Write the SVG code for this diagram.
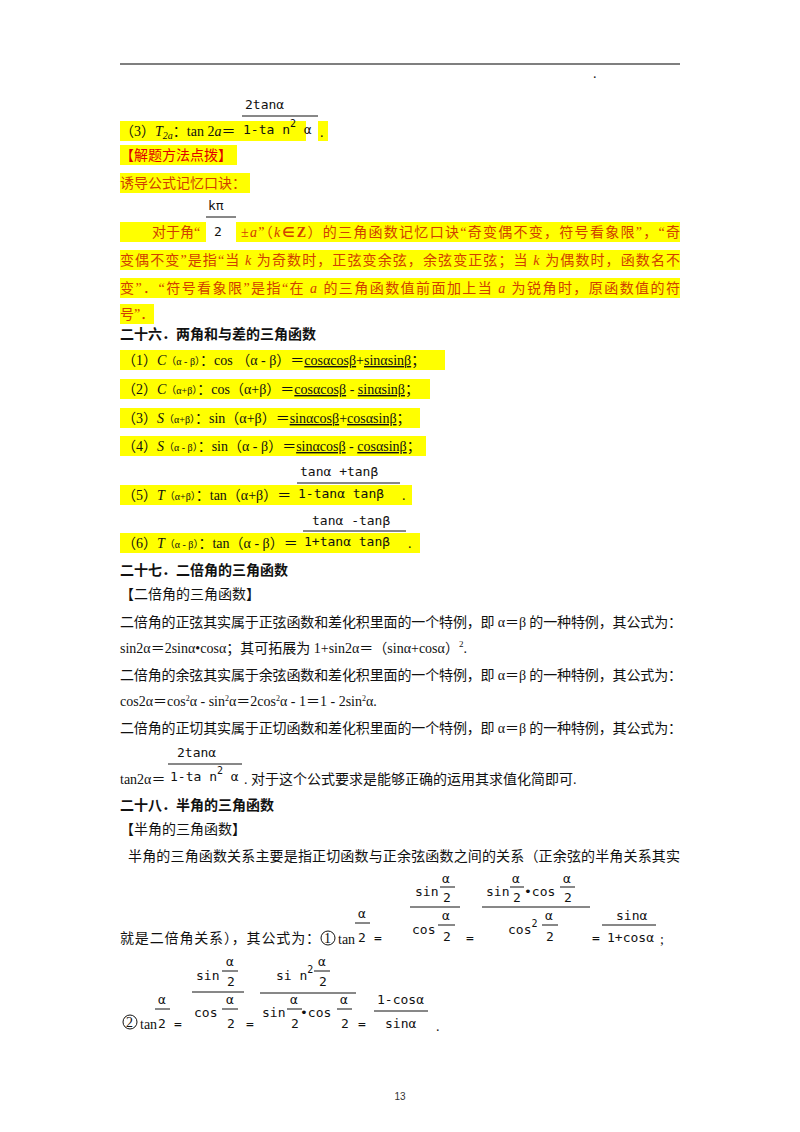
<svg xmlns="http://www.w3.org/2000/svg" width="800" height="1132" viewBox="0 0 800 1132">
<style>
.t{font-family:"Liberation Serif","Noto Sans CJK SC",serif;font-size:14px;fill:#111}
.b{font-weight:bold}
.r{fill:#e00000}
.o{fill:#d04000}
.m{font-family:"DejaVu Sans Mono","Liberation Mono",monospace;font-size:13px;fill:#111}
.s{font-size:10px}
.hl{fill:#ffff00}
.fl{stroke:#111;stroke-width:1}
.u{text-decoration:underline}
</style>
<rect width="800" height="1132" fill="#fff"/>
<line x1="120" y1="64" x2="680" y2="64" stroke="#000" stroke-width="1.2"/>
<text class="t" x="593" y="78" font-size="8">.</text>

<!-- top (3) -->
<rect class="hl" x="120" y="121" width="186" height="20"/>
<text class="t" x="120" y="136">（3）<tspan font-style="italic">T</tspan><tspan class="s" font-style="italic" dy="3">2a</tspan><tspan dy="-3">：tan  2</tspan><tspan font-style="italic">a</tspan>＝</text>
<text class="m" x="245" y="109">2tanα</text>
<line class="fl" x1="242" y1="116" x2="318" y2="116"/>
<text class="m" x="243" y="134">1-ta n<tspan dy="-7" font-size="10">2</tspan><tspan dy="7"> α</tspan></text>
<rect class="hl" x="318" y="121" width="10" height="20"/>
<text class="t" x="320" y="137">.</text>

<rect class="hl" x="120" y="145" width="117" height="20"/>
<text class="t r" x="120" y="160">【解题方法点拨】</text>
<rect class="hl" x="120" y="173" width="130" height="20"/>
<text class="t o" x="120" y="188">诱导公式记忆口诀：</text>

<text class="m" x="208" y="210">kπ</text>
<line class="fl" x1="206" y1="217" x2="236" y2="217"/>
<rect class="hl" x="120" y="222" width="86" height="20"/>
<rect class="hl" x="236" y="222" width="444" height="20"/>
<text class="m" x="214" y="236" font-size="14">2</text>
<text class="t o" x="152" y="237">对于角“</text>
<text class="t o" x="241" y="237" textLength="439" lengthAdjust="spacing">±<tspan font-style="italic">a</tspan>”（<tspan font-style="italic">k</tspan><tspan font-weight="bold">∈Z</tspan>）的三角函数记忆口诀“奇变偶不变，符号看象限”，“奇</text>
<rect class="hl" x="120" y="250" width="560" height="20"/>
<text class="t o" x="120" y="265" textLength="560" lengthAdjust="spacing">变偶不变”是指“当 <tspan font-style="italic">k</tspan> 为奇数时，正弦变余弦，余弦变正弦；当 <tspan font-style="italic">k</tspan> 为偶数时，函数名不</text>
<rect class="hl" x="120" y="278" width="560" height="20"/>
<text class="t o" x="120" y="293" textLength="560" lengthAdjust="spacing">变”．“符号看象限”是指“在 <tspan font-style="italic">a</tspan> 的三角函数值前面加上当 <tspan font-style="italic">a</tspan> 为锐角时，原函数值的符</text>
<rect class="hl" x="120" y="304" width="34" height="20"/>
<text class="t o" x="120" y="319">号”．</text>

<text class="t b" x="120" y="339">二十六．两角和与差的三角函数</text>

<rect class="hl" x="120" y="350" width="325" height="20"/>
<text class="t" x="122" y="365">（1）<tspan font-style="italic">C</tspan><tspan class="s">（α - β）</tspan>：cos  （α - β）＝<tspan class="u">cosαcosβ</tspan>+<tspan class="u">sinαsinβ</tspan>；</text>
<rect class="hl" x="120" y="379" width="310" height="20"/>
<text class="t" x="122" y="394">（2）<tspan font-style="italic">C</tspan><tspan class="s">（α+β）</tspan>：cos（α+β）＝<tspan class="u">cosαcosβ</tspan> - <tspan class="u">sinαsinβ</tspan>；</text>
<rect class="hl" x="120" y="408" width="300" height="20"/>
<text class="t" x="122" y="423">（3）<tspan font-style="italic">S</tspan><tspan class="s">（α+β）</tspan>：sin（α+β）＝<tspan class="u">sinαcosβ</tspan>+<tspan class="u">cosαsinβ</tspan>；</text>
<rect class="hl" x="120" y="436" width="306" height="20"/>
<text class="t" x="122" y="451">（4）<tspan font-style="italic">S</tspan><tspan class="s">（α - β）</tspan>：sin（α - β）＝<tspan class="u">sinαcosβ</tspan> - <tspan class="u">cosαsinβ</tspan>；</text>

<rect class="hl" x="120" y="485" width="285" height="20"/>
<text class="t" x="122" y="500">（5）<tspan font-style="italic">T</tspan><tspan class="s">（α+β）</tspan>：tan（α+β）＝</text>
<text class="m" x="300" y="476">tanα +tanβ</text>
<line class="fl" x1="297" y1="483" x2="400" y2="483"/>
<text class="m" x="298" y="498">1-tanα tanβ</text>
<rect class="hl" x="400" y="485" width="12" height="20"/>
<text class="t" x="402" y="500">.</text>

<rect class="hl" x="120" y="533" width="290" height="20"/>
<text class="t" x="122" y="548">（6）<tspan font-style="italic">T</tspan><tspan class="s">（α - β）</tspan>：tan（α - β）＝</text>
<text class="m" x="312" y="525">tanα -tanβ</text>
<line class="fl" x1="303" y1="531" x2="406" y2="531"/>
<text class="m" x="304" y="546">1+tanα tanβ</text>
<rect class="hl" x="406" y="533" width="14" height="20"/>
<text class="t" x="408" y="548">.</text>

<text class="t b" x="120" y="575">二十七．二倍角的三角函数</text>
<text class="t" x="120" y="599">【二倍角的三角函数】</text>
<text class="t" x="120" y="627" textLength="562" lengthAdjust="spacing">二倍角的正弦其实属于正弦函数和差化积里面的一个特例，即 α＝β 的一种特例，其公式为：</text>
<text class="t" x="120" y="653">sin2α＝2sinα•cosα；其可拓展为 1+sin2α＝（sinα+cosα）<tspan dy="-6" font-size="9">2</tspan><tspan dy="6">.</tspan></text>
<text class="t" x="120" y="680" textLength="562" lengthAdjust="spacing">二倍角的余弦其实属于余弦函数和差化积里面的一个特例，即 α＝β 的一种特例，其公式为：</text>
<text class="t" x="120" y="706">cos2α＝cos<tspan dy="-5" font-size="8">2</tspan><tspan dy="5">α - sin</tspan><tspan dy="-5" font-size="8">2</tspan><tspan dy="5">α＝2cos</tspan><tspan dy="-5" font-size="8">2</tspan><tspan dy="5">α - 1＝1 - 2sin</tspan><tspan dy="-5" font-size="8">2</tspan><tspan dy="5">α.</tspan></text>
<text class="t" x="120" y="733" textLength="562" lengthAdjust="spacing">二倍角的正切其实属于正切函数和差化积里面的一个特例，即 α＝β 的一种特例，其公式为：</text>
<text class="m" x="177" y="757">2tanα</text>
<line class="fl" x1="168" y1="764" x2="242" y2="764"/>
<text class="m" x="170" y="781">1-ta n<tspan dy="-7" font-size="10">2</tspan><tspan dy="7"> α</tspan></text>
<text class="t" x="120" y="784">tan2α＝</text>
<text class="t" x="244" y="784">. 对于这个公式要求是能够正确的运用其求值化简即可.</text>

<text class="t b" x="120" y="810">二十八．半角的三角函数</text>
<text class="t" x="120" y="834">【半角的三角函数】</text>
<text class="t" x="128" y="861" textLength="552" lengthAdjust="spacing">半角的三角函数关系主要是指正切函数与正余弦函数之间的关系（正余弦的半角关系其实</text>

<!-- half-angle formula 1 -->
<text class="t" x="120" y="943" textLength="200" lengthAdjust="spacing">就是二倍角关系），其公式为：</text>
<circle cx="328" cy="938" r="7" fill="none" stroke="#111" stroke-width="1"/>
<text class="t" x="324" y="943" font-size="11">1</text>
<text class="t" x="338" y="944" font-size="12">tan</text>
<text class="m" x="358" y="918">α</text>
<line class="fl" x1="355" y1="923" x2="370" y2="923"/>
<text class="m" x="358" y="942" font-size="14">2</text>
<text class="m" x="374" y="942">=</text>
<text class="m" x="415" y="896">sin</text>
<text class="m" x="442" y="883">α</text>
<line class="fl" x1="440" y1="887" x2="455" y2="887"/>
<text class="m" x="443" y="902" font-size="14">2</text>
<line class="fl" x1="410" y1="907" x2="460" y2="907"/>
<text class="m" x="412" y="934">cos</text>
<text class="m" x="442" y="920">α</text>
<line class="fl" x1="438" y1="925" x2="455" y2="925"/>
<text class="m" x="443" y="941" font-size="14">2</text>
<text class="m" x="466" y="942">=</text>
<text class="m" x="486" y="896">sin</text>
<text class="m" x="512" y="883">α</text>
<line class="fl" x1="510" y1="887" x2="524" y2="887"/>
<text class="m" x="513" y="902" font-size="14">2</text>
<text class="m" x="524" y="896">•cos</text>
<text class="m" x="563" y="883">α</text>
<line class="fl" x1="560" y1="887" x2="575" y2="887"/>
<text class="m" x="564" y="902" font-size="14">2</text>
<line class="fl" x1="482" y1="907" x2="590" y2="907"/>
<text class="m" x="508" y="934">cos<tspan dy="-7" font-size="10">2</tspan></text>
<text class="m" x="545" y="920">α</text>
<line class="fl" x1="542" y1="925" x2="558" y2="925"/>
<text class="m" x="546" y="941" font-size="14">2</text>
<text class="m" x="592" y="942">=</text>
<text class="m" x="616" y="920">sinα</text>
<line class="fl" x1="602" y1="925" x2="656" y2="925"/>
<text class="m" x="607" y="942">1+cosα</text>
<text class="t" x="660" y="944">;</text>

<!-- half-angle formula 2 -->
<circle cx="130" cy="1022" r="7" fill="none" stroke="#111" stroke-width="1"/>
<text class="t" x="126" y="1027" font-size="11">2</text>
<text class="t" x="140" y="1029" font-size="12">tan</text>
<text class="m" x="158" y="1004">α</text>
<line class="fl" x1="155" y1="1009" x2="170" y2="1009"/>
<text class="m" x="158" y="1028" font-size="14">2</text>
<text class="m" x="174" y="1028">=</text>
<text class="m" x="196" y="980">sin</text>
<text class="m" x="226" y="966">α</text>
<line class="fl" x1="222" y1="971" x2="238" y2="971"/>
<text class="m" x="227" y="986" font-size="14">2</text>
<line class="fl" x1="192" y1="992" x2="244" y2="992"/>
<text class="m" x="194" y="1017">cos</text>
<text class="m" x="226" y="1004">α</text>
<line class="fl" x1="222" y1="1009" x2="238" y2="1009"/>
<text class="m" x="227" y="1028" font-size="14">2</text>
<text class="m" x="246" y="1028">=</text>
<text class="m" x="276" y="980">si n<tspan dy="-7" font-size="10">2</tspan></text>
<text class="m" x="318" y="966">α</text>
<line class="fl" x1="314" y1="971" x2="330" y2="971"/>
<text class="m" x="319" y="986" font-size="14">2</text>
<line class="fl" x1="260" y1="993" x2="356" y2="993"/>
<text class="m" x="262" y="1017">sin</text>
<text class="m" x="290" y="1004">α</text>
<line class="fl" x1="287" y1="1009" x2="302" y2="1009"/>
<text class="m" x="291" y="1028" font-size="14">2</text>
<text class="m" x="300" y="1017">•cos</text>
<text class="m" x="340" y="1004">α</text>
<line class="fl" x1="337" y1="1009" x2="352" y2="1009"/>
<text class="m" x="341" y="1028" font-size="14">2</text>
<text class="m" x="358" y="1028">=</text>
<text class="m" x="377" y="1004">1-cosα</text>
<line class="fl" x1="374" y1="1011" x2="428" y2="1011"/>
<text class="m" x="385" y="1028">sinα</text>
<text class="t" x="436" y="1031">.</text>

<text x="400" y="1100" font-family="Liberation Sans,sans-serif" font-size="10" fill="#333" text-anchor="middle">13</text>
</svg>
